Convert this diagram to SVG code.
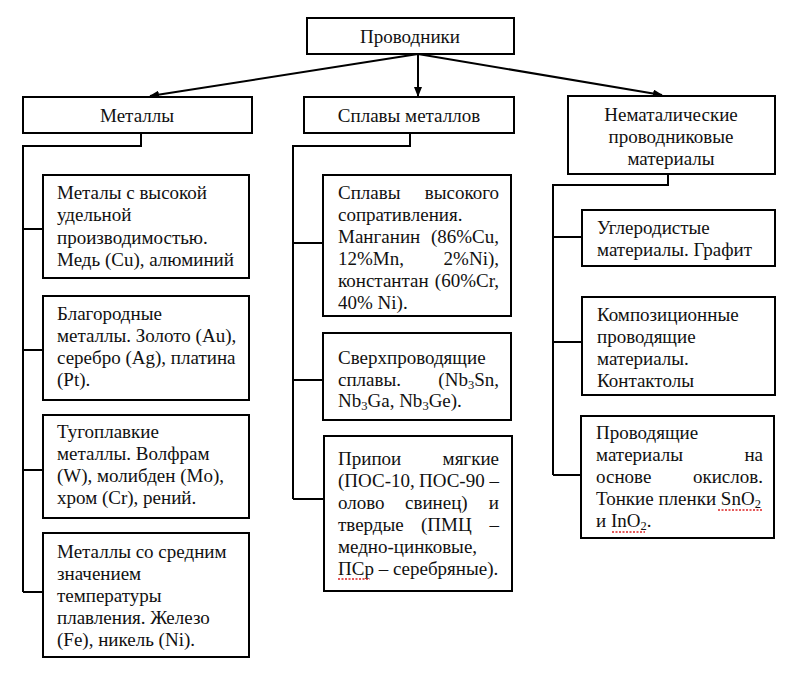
<svg xmlns="http://www.w3.org/2000/svg" width="800" height="680" viewBox="0 0 800 680">
<style>
.box{fill:#fff;stroke:#000;stroke-width:2}
.t{font-family:"Liberation Serif","Times New Roman",serif;font-size:19px;fill:#111}
.c{text-anchor:middle}
.e{text-anchor:end}
.ln{fill:none;stroke:#000;stroke-width:2}
.sub{font-size:12.5px}
.sp{fill:none;stroke:#d22;stroke-width:1.3;stroke-dasharray:2 1.5}
</style>
<defs>
<marker id="ah" markerWidth="10" markerHeight="8" refX="9" refY="4" orient="auto" markerUnits="userSpaceOnUse">
<path d="M0,0 L10,4 L0,8 z" fill="#000"/>
</marker>
</defs>
<rect width="800" height="680" fill="#fff"/>
<g id="connectors">
<line class="ln" x1="418" y1="54" x2="150" y2="96" marker-end="url(#ah)"/>
<line class="ln" x1="418" y1="54" x2="418" y2="96" marker-end="url(#ah)"/>
<line class="ln" x1="418" y1="54" x2="662" y2="95" marker-end="url(#ah)"/>
<path class="ln" d="M141,133 V146 H23 V592 M23,229 H43 M23,350 H43 M23,470 H43 M23,592 H43"/>
<path class="ln" d="M410,133 V146 H293 V499 M293,243 H323 M293,380 H323 M293,499 H323"/>
<path class="ln" d="M668,174 V185 H553 V475 M553,237 H582 M553,342 H582 M553,475 H582"/>
</g>
<g id="root">
<rect class="box" x="307" y="18" width="207" height="36"/>
<text class="t c" x="410" y="43">Проводники</text>
</g>
<g id="metals">
<rect class="box" x="23" y="97" width="229" height="36"/>
<text class="t c" x="137" y="122">Металлы</text>
</g>
<g id="alloys">
<rect class="box" x="304" y="97" width="210" height="36"/>
<text class="t c" x="409" y="122">Сплавы металлов</text>
</g>
<g id="nonmetal">
<rect class="box" x="568" y="96" width="207" height="78"/>
<text class="t c" x="671" y="121">Нематалические</text>
<text class="t c" x="671" y="143">проводниковые</text>
<text class="t c" x="671" y="165">материалы</text>
</g>
<g id="m1">
<rect class="box" x="43" y="175" width="206" height="103"/>
<text class="t" x="57" y="199">Металы с высокой</text>
<text class="t" x="57" y="221">удельной</text>
<text class="t" x="57" y="244">производимостью.</text>
<text class="t" x="57" y="266">Медь (Cu), алюминий</text>
</g>
<g id="m2">
<rect class="box" x="43" y="296" width="206" height="104"/>
<text class="t" x="57" y="320">Благородные</text>
<text class="t" x="57" y="342">металлы. Золото (Au),</text>
<text class="t" x="57" y="364">серебро (Ag), платина</text>
<text class="t" x="57" y="386">(Pt).</text>
</g>
<g id="m3">
<rect class="box" x="43" y="415" width="206" height="103"/>
<text class="t" x="57" y="438">Тугоплавкие</text>
<text class="t" x="57" y="460">металлы. Волфрам</text>
<text class="t" x="57" y="482">(W), молибден (Mo),</text>
<text class="t" x="57" y="504">хром (Cr), рений.</text>
</g>
<g id="m4">
<rect class="box" x="43" y="533" width="206" height="124"/>
<text class="t" x="57" y="558">Металлы со средним</text>
<text class="t" x="57" y="580">значением</text>
<text class="t" x="57" y="602">температуры</text>
<text class="t" x="57" y="624">плавления. Железо</text>
<text class="t" x="57" y="646">(Fe), никель (Ni).</text>
</g>
<g id="a1">
<rect class="box" x="323" y="175" width="188" height="141"/>
<text class="t" x="338" y="199">Сплавы</text><text class="t e" x="499" y="199">высокого</text>
<text class="t" x="338" y="221">сопративления.</text>
<text class="t" x="338" y="243">Манганин</text><text class="t e" x="499" y="243">(86%Cu,</text>
<text class="t" x="338" y="265">12%Mn,</text><text class="t e" x="499" y="265">2%Ni),</text>
<text class="t" x="338" y="287">константан</text><text class="t e" x="499" y="287">(60%Cr,</text>
<text class="t" x="338" y="309">40% Ni).</text>
</g>
<g id="a2">
<rect class="box" x="323" y="333" width="188" height="87"/>
<text class="t" x="338" y="364">Сверхпроводящие</text>
<text class="t" x="338" y="386">сплавы.</text><text class="t e" x="499" y="386">(Nb<tspan class="sub" dy="3">3</tspan><tspan dy="-3">Sn,</tspan></text>
<text class="t" x="338" y="407">Nb<tspan class="sub" dy="3">3</tspan><tspan dy="-3">Ga, Nb</tspan><tspan class="sub" dy="3">3</tspan><tspan dy="-3">Ge).</tspan></text>
</g>
<g id="a3">
<rect class="box" x="324" y="436" width="188" height="155"/>
<text class="t" x="338" y="465">Припои</text><text class="t e" x="499" y="465">мягкие</text>
<text class="t" x="338" y="487">(ПОС-10,</text><text class="t" x="419" y="487">ПОС-90</text><text class="t e" x="499" y="487">–</text>
<text class="t" x="338" y="509">олово</text><text class="t" x="405" y="509">свинец)</text><text class="t e" x="499" y="509">и</text>
<text class="t" x="338" y="531">твердые</text><text class="t" x="421" y="531">(ПМЦ</text><text class="t e" x="499" y="531">–</text>
<text class="t" x="338" y="553">медно-цинковые,</text>
<text class="t" x="338" y="575">ПСр – серебряные).</text>
</g>
<g id="n1">
<rect class="box" x="582" y="210" width="193" height="56"/>
<text class="t" x="597" y="234">Углеродистые</text>
<text class="t" x="597" y="256">материалы. Графит</text>
</g>
<g id="n2">
<rect class="box" x="582" y="297" width="193" height="98"/>
<text class="t" x="597" y="321">Композиционные</text>
<text class="t" x="597" y="343">проводящие</text>
<text class="t" x="597" y="365">материалы.</text>
<text class="t" x="597" y="387">Контактолы</text>
</g>
<g id="n3">
<rect class="box" x="581" y="416" width="193" height="122"/>
<text class="t" x="596" y="439">Проводящие</text>
<text class="t" x="596" y="461">материалы</text><text class="t e" x="763" y="461">на</text>
<text class="t" x="596" y="483">основе</text><text class="t e" x="763" y="483">окислов.</text>
<text class="t" x="596" y="505">Тонкие пленки SnO<tspan class="sub" dy="3">2</tspan></text>
<text class="t" x="596" y="527">и InO<tspan class="sub" dy="3">2</tspan><tspan dy="-3">.</tspan></text>
</g>
<g id="spellcheck">
<path class="sp" d="M338,579 H370"/>
<path class="sp" d="M718,510 H762"/>
<path class="sp" d="M612,532 H645"/>
</g>
</svg>
